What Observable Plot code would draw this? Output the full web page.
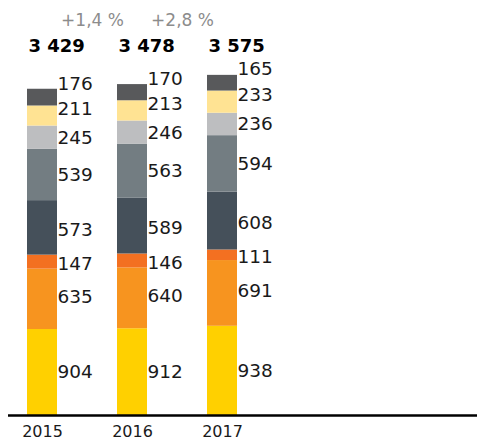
<!DOCTYPE html>
<html>
<head>
<meta charset="utf-8">
<script src="https://cdn.jsdelivr.net/npm/d3@7"></script>
<script src="https://cdn.jsdelivr.net/npm/@observablehq/plot@0.6"></script>
<style>
  html, body { margin: 0; padding: 0; background: #fff; }
  #chart { width: 477px; height: 441px; overflow: hidden; }
</style>
</head>
<body>
<div id="chart"></div>
<script>
// ---- data ----
const years = ["2015", "2016", "2017"];
const layers = ["s1", "s2", "s3", "s4", "s5", "s6", "s7", "s8"]; // bottom -> top
const s1 = [904, 912, 938];
const s2 = [635, 640, 691];
const s3 = [147, 146, 111];
const s4 = [573, 589, 608];
const s5 = [539, 563, 594];
const s6 = [245, 246, 236];
const s7 = [211, 213, 233];
const s8 = [176, 170, 165];
const totals = ["3 429", "3 478", "3 575"];
const growthYears = ["2016", "2017"];
const growth = ["+1,4 %", "+2,8 %"];
const colors = ["#FFD000", "#F7941F", "#F37021", "#45505A", "#737D82", "#BDBEC0", "#FFE393", "#58595B"];

const series = [s1, s2, s3, s4, s5, s6, s7, s8];
const rows = [];
years.forEach((year, i) => {
  let acc = 0;
  series.forEach((s, k) => {
    const v = s[i];
    rows.push({year, layer: layers[k], value: v, mid: acc + v / 2});
    acc += v;
  });
});
const totalRows = years.map((year, i) => ({year, label: totals[i]}));
const growthRows = growthYears.map((year, i) => ({year, label: growth[i]}));

const labelDy = {s1: 0, s2: -2, s3: 2, s4: 2, s5: 0, s6: 0, s7: -7, s8: -14};
const labelMarks = layers.map(l =>
  Plot.text(rows.filter(d => d.layer === l), {
    x: "year", y: "mid", text: d => String(d.value),
    textAnchor: "start", dx: 15, dy: labelDy[l],
    fontSize: 18.5, fill: "#1a1a1a"
  })
);

const chart = Plot.plot({
  width: 477,
  height: 441,
  marginTop: 6,
  marginBottom: 26,
  marginLeft: 8,
  marginRight: 0,
  style: {fontFamily: "DejaVu Sans", background: "#fff"},
  x: {domain: years, range: [17, 247], paddingInner: 0.663, paddingOuter: 0.1, align: 0.5, label: null},
  y: {domain: [0, 4300], axis: null},
  color: {domain: layers, range: colors},
  marks: [
    Plot.barY(rows, {x: "year", y: "value", fill: "layer", order: layers}),
    ...labelMarks,
    Plot.text(totalRows, {
      x: "year", text: "label", frameAnchor: "top", dy: 33, dx: -14,
      textAnchor: "start", fontSize: 18, fontWeight: "bold", fill: "#000"
    }),
    Plot.text(growthRows, {
      x: "year", text: "label", frameAnchor: "top", dy: 7, dx: -40,
      fontSize: 17, fill: "#8c8c8c"
    }),
    Plot.ruleY([0], {stroke: "#000", strokeWidth: 2.5}),
    Plot.axisX({tickSize: 0, tickPadding: 10, fontSize: 16, fill: "#1a1a1a", label: null})
  ]
});
document.getElementById("chart").appendChild(chart);
</script>
</body>
</html>
